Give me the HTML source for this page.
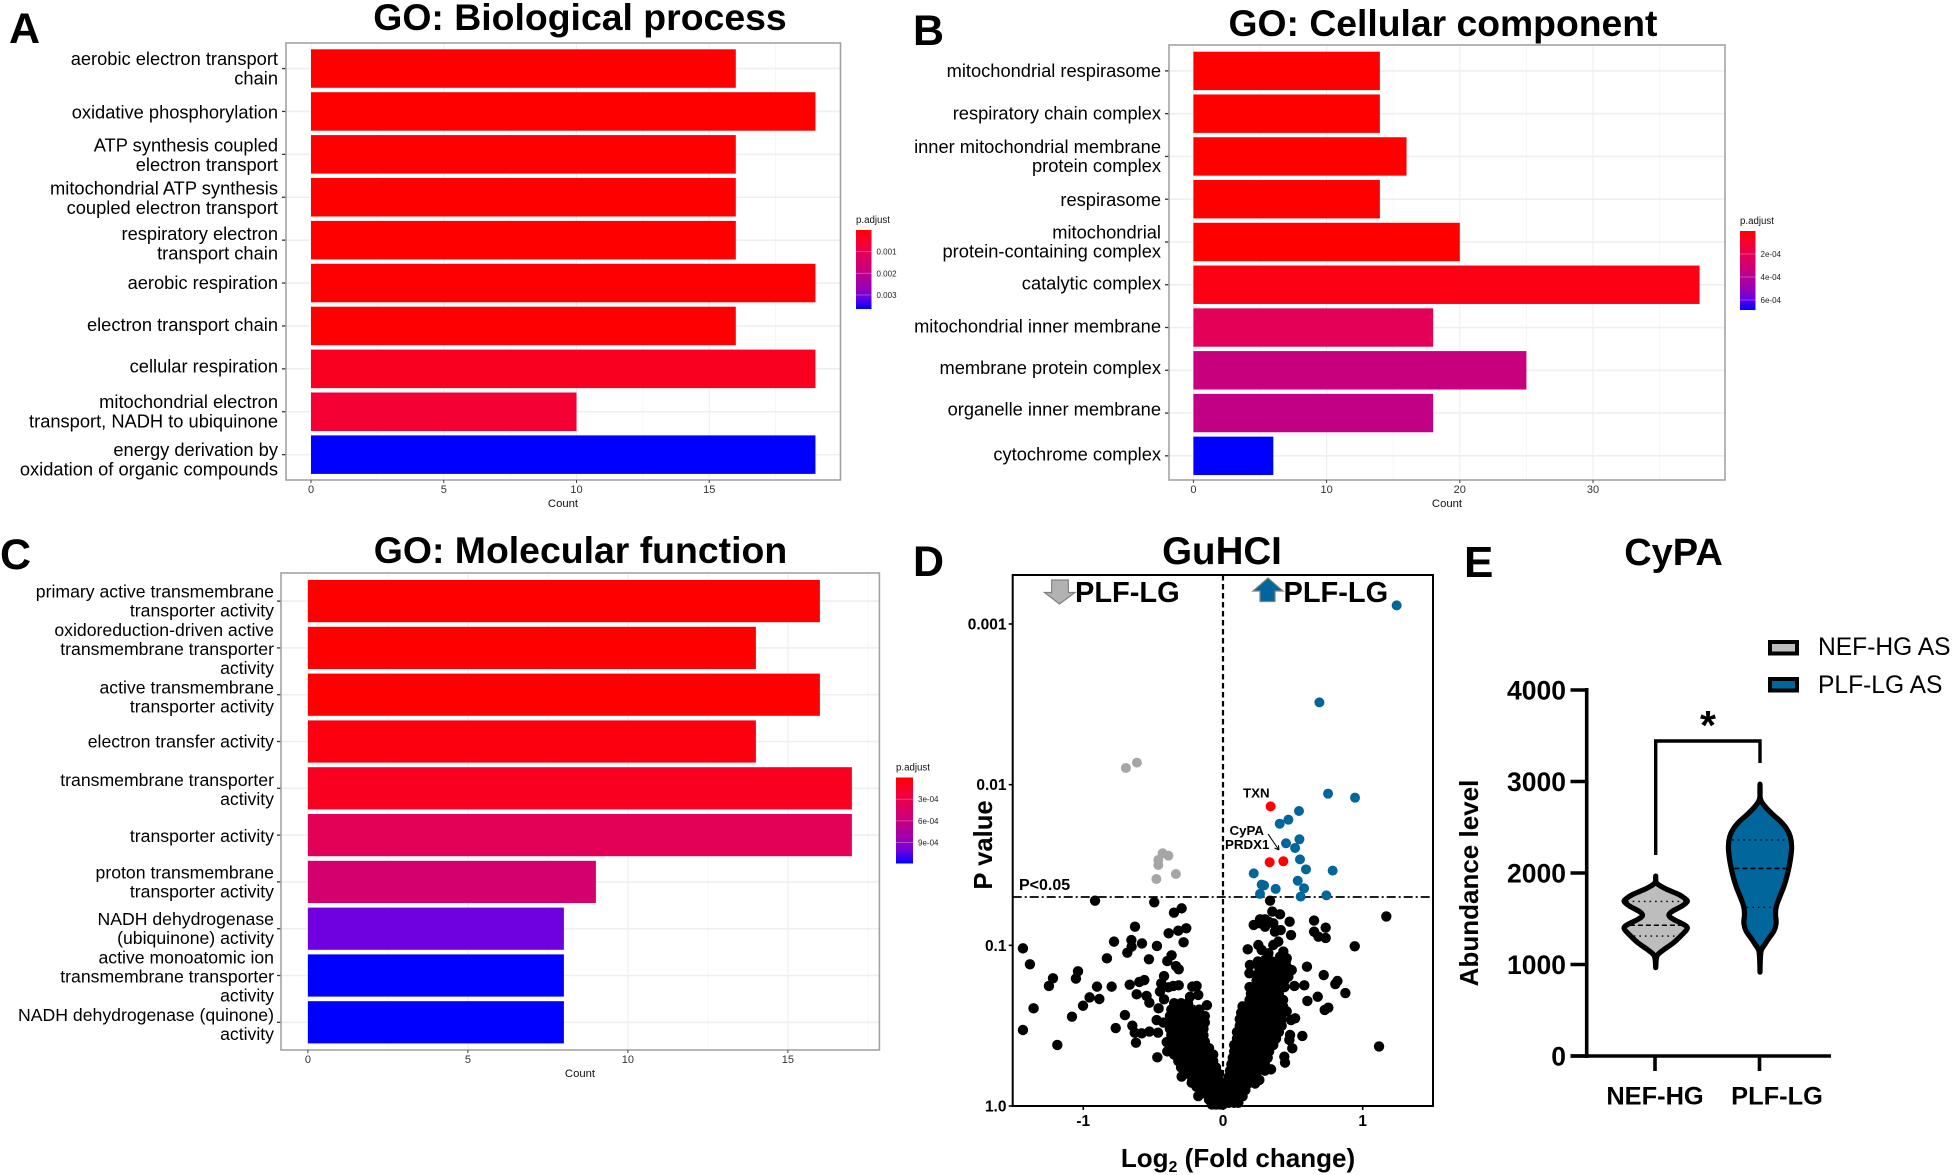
<!DOCTYPE html>
<html lang="en">
<head>
<meta charset="utf-8">
<title>GO enrichment, volcano and violin panels</title>
<style>
html,body{margin:0;padding:0;background:#fff;width:1955px;height:1175px;overflow:hidden}
svg{display:block}
text{font-family:"Liberation Sans",Arial,sans-serif;fill:#000}
.b{font-weight:bold}
</style>
</head>
<body>
<svg id="fig" xmlns="http://www.w3.org/2000/svg" width="1955" height="1175" viewBox="0 0 1955 1175">
  <rect width="1955" height="1175" fill="#fff"/>
  <text class="b" x="9" y="43" font-size="43">A</text>
  <text class="b" x="913" y="45" font-size="43">B</text>
  <text class="b" x="0" y="569" font-size="43">C</text>
  <text class="b" x="913" y="576" font-size="43">D</text>
  <text class="b" x="1464" y="577" font-size="44">E</text>
  <text class="b" x="580" y="30" font-size="37.4" text-anchor="middle">GO: Biological process</text>
  <text class="b" x="1443" y="36" font-size="37.3" text-anchor="middle">GO: Cellular component</text>
  <text class="b" x="580.5" y="563" font-size="37.4" text-anchor="middle">GO: Molecular function</text>
  <text class="b" x="1222" y="564" font-size="38.5" text-anchor="middle">GuHCI</text>
  <text class="b" x="1673.5" y="565" font-size="38" text-anchor="middle">CyPA</text>
  <g id="panelA"></g>
  <g id="panelB"></g>
  <g id="panelC"></g>
  <g id="panelD"></g>
  <g id="panelE"></g>
</svg>
<script>
/* ---------- GO panel data ---------- */
const bpTerms = ["aerobic electron transport\nchain","oxidative phosphorylation","ATP synthesis coupled\nelectron transport","mitochondrial ATP synthesis\ncoupled electron transport","respiratory electron\ntransport chain","aerobic respiration","electron transport chain","cellular respiration","mitochondrial electron\ntransport, NADH to ubiquinone","energy derivation by\noxidation of organic compounds"];
const bpCounts = [16,19,16,16,16,19,16,19,10,19];
const bpPadj = [0.00001,0.00001,0.00001,0.00001,0.00001,0.00002,0.00002,0.00037,0.00062,0.00365];
const bpPadjMax = 0.00365;
const bpTicks = [0,5,10,15];
const bpMinorTicks = [2.5,7.5,12.5,17.5];
const bpLegendTicks = [0.001,0.002,0.003];
const bpLegendLabels = ["0.001","0.002","0.003"];

const ccTerms = ["mitochondrial respirasome","respiratory chain complex","inner mitochondrial membrane\nprotein complex","respirasome","mitochondrial\nprotein-containing complex","catalytic complex","mitochondrial inner membrane","membrane protein complex","organelle inner membrane","cytochrome complex"];
const ccCounts = [14,14,16,14,20,38,18,25,18,6];
const ccPadj = [0.000001,0.000001,0.000002,0.000002,0.000003,0.00004,0.000206,0.000344,0.000364,0.000687];
const ccPadjMax = 0.000687;
const ccTicks = [0,10,20,30];
const ccMinorTicks = [5,15,25,35];
const ccLegendTicks = [0.0002,0.0004,0.0006];
const ccLegendLabels = ["2e-04","4e-04","6e-04"];

const mfTerms = ["primary active transmembrane\ntransporter activity","oxidoreduction-driven active\ntransmembrane transporter\nactivity","active transmembrane\ntransporter activity","electron transfer activity","transmembrane transporter\nactivity","transporter activity","proton transmembrane\ntransporter activity","NADH dehydrogenase\n(ubiquinone) activity","active monoatomic ion\ntransmembrane transporter\nactivity","NADH dehydrogenase (quinone)\nactivity"];
const mfCounts = [16,14,16,14,17,17,9,8,8,8];
const mfPadj = [0.000002,0.000003,0.000003,0.00006,0.00012,0.00036,0.0005,0.00101,0.00119,0.00119];
const mfPadjMax = 0.00119;
const mfTicks = [0,5,10,15];
const mfMinorTicks = [2.5,7.5,12.5,17.5];
const mfLegendTicks = [0.0003,0.0006,0.0009];
const mfLegendLabels = ["3e-04","6e-04","9e-04"];

/* ---------- Volcano data: log2 fold change and -log10(P) ---------- */
const blueFC = [1.243,.690,.752,.945,.544,.468,.406,.547,.451,.516,.551,.594,.785,.220,.535,.277,.294,.377,.580,.265,.556,.740];
const blueNegLogP = [3.116,2.512,1.944,1.919,1.836,1.782,1.757,1.660,1.635,1.606,1.535,1.473,1.465,1.448,1.402,1.378,1.373,1.351,1.355,1.320,1.303,1.311];
const redFC = [.341,.334,.432];
const redNegLogP = [1.865,1.517,1.523];
const grayFC = [-.695,-.616,-.432,-.391,-.463,-.463,-.337,-.477];
const grayNegLogP = [2.104,2.137,1.573,1.558,1.531,1.500,1.444,1.413];
const blackFC = [
-.916,-.492,-.296,-.351,-.630,-.263,-.320,-.389,-.656,-.780,
-.580,-.282,-.473,-1.432,-.654,-.685,-.368,-.831,-.530,-.399,
-1.382,-.337,-.317,-1.038,-1.217,-1.053,-.422,-.563,-.599,-.668,
-1.246,-.902,-.797,-.317,-.356,-.391,-.442,-.451,-.618,-.547,
-.955,-.885,-.527,-1.002,-1.356,-.422,-.461,-1.081,-.702,-1.432,
-.768,-.649,-.475,-.427,-.632,-.582,-.527,-.465,-1.186,-.623,
-.403,-.470,-.399,
1.117,1.169,.943,.652,.735,.652,.683,.735,.477,.487,
.601,.721,.819,.804,.582,.511,.876,.678,.604,.754,
.728,.456,.516,.487,.568,.480,.475,.496,.439,.444,
.344,.260,-.115,-.189,-.220,-.177,-.236,-.177,-.296,-.224,
.177,.193,.189,
.337,.353,.408,.265,.301,.220,.265,.301,.325,.360,
.372,.413,.253,.277,.325,.360,.396,.432,.456,.408,
.456,.492,.468,.301,.265,
-.35,-.30,-.25,
-.37,-.32,-.27,-.22,-.17,
-.38,-.33,-.28,-.23,-.18,-.13,
-.37,-.32,-.27,-.22,-.17,-.13,
-.38,-.33,-.28,-.23,-.18,-.14,
-.37,-.32,-.27,-.22,-.17,-.14,
-.38,-.33,-.28,-.23,-.18,-.13,
-.36,-.31,-.26,-.21,-.16,-.10,
-.35,-.30,-.25,-.20,-.15,-.10,-.07,
-.32,-.27,-.22,-.17,-.12,-.07,
-.30,-.25,-.20,-.15,-.10,-.05,
-.27,-.22,-.17,-.12,-.07,-.03,
-.22,-.17,-.12,-.07,-.03,
-.19,-.14,-.09,-.05,-.02,
-.14,-.09,-.05,-.02,
-.10,-.06,-.03,-.01,
-.08,-.05,-.02,0,
.25,.30,.35,.40,.45,
.26,.31,.36,.41,.46,
.25,.30,.35,.40,.45,
.24,.29,.34,.39,.44,
.19,.24,.29,.34,.39,.44,
.20,.25,.30,.35,.40,
.19,.24,.29,.34,.39,.43,
.14,.19,.24,.29,.34,.39,.43,
.13,.18,.23,.28,.33,.38,.43,
.12,.17,.22,.27,.32,.37,.42,
.12,.17,.22,.27,.32,.37,.42,
.10,.15,.20,.25,.30,.35,.40,
.10,.15,.20,.25,.30,.35,.38,
.08,.13,.18,.23,.28,.33,.36,
.08,.13,.18,.23,.28,.33,
.07,.12,.17,.22,.27,.32,
.06,.11,.16,.21,.26,.30,
.05,.10,.15,.20,.25,.30,
.04,.09,.14,.19,.24,
.03,.08,.13,.18,.23,
.03,.07,.12,.16,
.02,.06,.10,.14,
.01,.04,.08,.11
];
const blackNegLogP = [
1.278,1.268,1.230,1.203,1.116,1.106,1.091,1.075,1.033,1.023,
1.012,1.019,.996,.981,.992,.954,.938,.919,.913,.902,
.882,.871,.851,.838,.795,.793,.809,.784,.772,.755,
.747,.743,.743,.751,.747,.739,.763,.712,.695,.685,
.676,.666,.643,.624,.608,.664,.608,.556,.566,.473,
.485,.500,.535,.519,.456,.452,.463,.456,.380,.394,
.398,.303,.340,
.371,1.180,.994,1.154,1.110,1.085,1.054,1.046,1.147,1.064,
.867,.815,.778,.759,.751,.747,.703,.680,.654,.612,
.598,.589,.546,.535,.436,.442,.411,.359,.307,.270,
.228,.162,.627,.747,.743,.691,.680,.062,.183,.145,
.975,.878,.826,
1.278,1.210,1.193,1.162,1.162,1.127,1.137,1.116,1.147,1.137,
1.085,1.095,1.002,.971,.950,1.002,1.023,.961,.919,.929,
.867,.846,.805,.909,.867,
.64,.64,.64,
.60,.60,.60,.60,.60,
.56,.56,.56,.56,.56,.56,
.52,.52,.52,.52,.52,.52,
.48,.48,.48,.48,.48,.48,
.44,.44,.44,.44,.44,.44,
.40,.40,.40,.40,.40,.40,
.36,.36,.36,.36,.36,.36,
.32,.32,.32,.32,.32,.32,.32,
.28,.28,.28,.28,.28,.28,
.24,.24,.24,.24,.24,.24,
.20,.20,.20,.20,.20,.20,
.16,.16,.16,.16,.16,
.12,.12,.12,.12,.12,
.08,.08,.08,.08,
.04,.04,.04,.04,
.01,.01,.01,.01,
.90,.90,.90,.90,.90,
.86,.86,.86,.86,.86,
.82,.82,.82,.82,.82,
.78,.78,.78,.78,.78,
.74,.74,.74,.74,.74,.74,
.70,.70,.70,.70,.70,
.66,.66,.66,.66,.66,.66,
.62,.62,.62,.62,.62,.62,.62,
.58,.58,.58,.58,.58,.58,.58,
.54,.54,.54,.54,.54,.54,.54,
.50,.50,.50,.50,.50,.50,.50,
.46,.46,.46,.46,.46,.46,.46,
.42,.42,.42,.42,.42,.42,.42,
.38,.38,.38,.38,.38,.38,.38,
.34,.34,.34,.34,.34,.34,
.30,.30,.30,.30,.30,.30,
.26,.26,.26,.26,.26,.26,
.22,.22,.22,.22,.22,.22,
.18,.18,.18,.18,.18,
.14,.14,.14,.14,.14,
.10,.10,.10,.10,
.06,.06,.06,.06,
.02,.02,.02,.02
];
const volcanoXTicks = [-1,0,1];
const volcanoXLabels = ["-1","0","1"];
const volcanoYTicks = [0.001,0.01,0.1,1];
const volcanoYLabels = ["0.001","0.01","0.1","1.0"];
const pThreshold = 0.05;

/* ---------- Violin data: abundance levels and relative density ---------- */
const nefLevels = [1966,1891,1828,1765,1723,1689,1639,1576,1534,1492,1437,1395,1324,1239,1155,1092,966];
const nefDensity = [0,.03,.31,.73,.92,1,.83,.5,.42,.57,.89,1,.83,.57,.23,.04,0];
const nefQuartiles = [1689,1429,1311];
const plfLevels = [2971,2815,2731,2647,2563,2479,2395,2290,2143,1975,1849,1744,1639,1555,1450,1366,1282,1218,1155,1050,916];
const plfDensity = [0,.01,.15,.38,.65,.85,.96,1,.96,.86,.75,.63,.52,.49,.51,.44,.27,.15,.04,.01,0];
const plfQuartiles = [2361,2050,1626];
const abundanceTicks = [0,1000,2000,3000,4000];
const groupLabels = ["NEF-HG","PLF-LG"];
const legendLabels = ["NEF-HG AS","PLF-LG AS"];

/* ---------- helpers ---------- */
const NS = "http://www.w3.org/2000/svg";
function mk(parent, tag, props, txt) {
  const el = document.createElementNS(NS, tag);
  for (const k in props) el.setAttribute(k, props[k]);
  if (txt !== undefined) el.textContent = txt;
  parent.appendChild(el);
  return el;
}
function padjColor(t) {
  const stops = [[0,255,0,0],[.15,247,0,48],[.3,227,0,86],[.5,200,0,126],[.75,146,0,187],[.85,111,0,224],[1,0,0,255]];
  t = Math.max(0, Math.min(1, t));
  for (let i = 1; i < stops.length; i++) {
    if (t <= stops[i][0]) {
      const a = stops[i-1], b = stops[i], f = (t - a[0]) / (b[0] - a[0]);
      return "rgb(" + [1,2,3].map(j => Math.round(a[j] + (b[j] - a[j]) * f)).join(",") + ")";
    }
  }
  return "rgb(0,0,255)";
}

/* ---------- GO bar panel ---------- */
let gradId = 0;
function drawGo(root, d, L) {
  const xs = c => L.x0 + c * L.k;
  const bandTop = i => L.top + i * L.step;
  const bg = mk(root, "rect", {x:L.left, y:L.ty, width:L.right-L.left, height:L.by-L.ty, fill:"#fff"});
  
  
  d.minor.forEach(v => {
    const g = mk(root, "line", {x1:xs(v), x2:xs(v), y1:L.ty, y2:L.by, stroke:"#f5f5f5", "stroke-width":0.8});
    
    
  });
  d.ticks.forEach(v => {
    const g = mk(root, "line", {x1:xs(v), x2:xs(v), y1:L.ty, y2:L.by, stroke:"#eeeeee", "stroke-width":1.1});
    
    
  });
  d.terms.forEach((term, i) => {
    const cy = bandTop(i) + L.barH / 2;
    const grid = mk(root, "line", {x1:L.left, x2:L.right, y1:cy, y2:cy, stroke:"#efefef", "stroke-width":1.6});
    
    
    const bar = mk(root, "rect", {x:xs(0), y:bandTop(i), width:xs(d.counts[i])-xs(0), height:L.barH, fill:padjColor(d.padj[i]/d.padjMax)});
    
    
    const tick = mk(root, "line", {x1:L.left-4, x2:L.left, y1:cy, y2:cy, stroke:"#333", "stroke-width":1.3});
    
    
    const lines = term.split("\n");
    const label = mk(root, "text", {x:L.labelX, "text-anchor":"end", "font-size":L.fontSize});
    
    
    lines.forEach((ln, j) => {
      mk(label, "tspan", {x:L.labelX, y:cy + L.labelShift[i] + (j - (lines.length-1)/2) * L.lineH + 6}, ln);
    });
  });
  const frame = mk(root, "rect", {x:L.left, y:L.ty, width:L.right-L.left, height:L.by-L.ty, fill:"none", stroke:"#a3a3a3", "stroke-width":1.6});
  
  
  d.ticks.forEach(v => {
    const t = mk(root, "line", {x1:xs(v), x2:xs(v), y1:L.by, y2:L.by+3, stroke:"#444", "stroke-width":1});
    
    
    const lab = mk(root, "text", {x:xs(v), y:L.by+13, "text-anchor":"middle", "font-size":11, style:"fill:#333"}, String(v));
    
    
  });
  const xt = mk(root, "text", {x:L.countX, y:L.by+27, "text-anchor":"middle", "font-size":11.3, style:"fill:#111"}, "Count");
  
  

  /* legend */
  const id = "grad" + (gradId++);
  const defs = mk(root, "defs", {});
  const lg = mk(defs, "linearGradient", {id:id, x1:0, y1:0, x2:0, y2:1});
  for (let i = 0; i <= 20; i++) mk(lg, "stop", {offset:i/20, "stop-color":padjColor(i/20)});
  const title = mk(root, "text", {x:L.legX, y:L.legTop-7, "font-size":9.7, style:"fill:#111"}, "p.adjust");
  
  
  const bar = mk(root, "rect", {x:L.legX, y:L.legTop, width:L.legW, height:L.legH, fill:"url(#"+id+")"});
  
  
  d.legendTicks.forEach((v, i) => {
    const y = L.legTop + v / d.padjMax * L.legH;
    const lt = mk(root, "line", {x1:L.legX, x2:L.legX+L.legW, y1:y, y2:y, stroke:"#fff", "stroke-opacity":.35, "stroke-width":.8});
    
    
    const ll = mk(root, "text", {x:L.legX+L.legW+5, y:y+3, "font-size":8, style:"fill:#222"}, d.legendLabels[i]);
    
    
  });
}

drawGo(document.getElementById("panelA"),
  {terms:bpTerms, counts:bpCounts, padj:bpPadj, padjMax:bpPadjMax, ticks:bpTicks, minor:bpMinorTicks, legendTicks:bpLegendTicks, legendLabels:bpLegendLabels},
  {left:286, right:840.5, ty:43, by:480, x0:311, k:26.55, top:49.3, step:42.9, barH:38.5, labelX:278, countX:563, legX:856, legTop:230, legW:15.5, legH:79, fontSize:18.3, lineH:19.5, labelShift:[0.3,1,1,1,3.5,0,-1,-2.5,0,5]});
drawGo(document.getElementById("panelB"),
  {terms:ccTerms, counts:ccCounts, padj:ccPadj, padjMax:ccPadjMax, ticks:ccTicks, minor:ccMinorTicks, legendTicks:ccLegendTicks, legendLabels:ccLegendLabels},
  {left:1169, right:1725, ty:45, by:480, x0:1193.4, k:13.32, top:51.7, step:42.77, barH:38.4, labelX:1161, countX:1447, legX:1740, legTop:231, legW:15.5, legH:79, fontSize:18.3, lineH:19.3, labelShift:[0,0,0,1,0,-1.2,-1.2,-2.5,-3.7,-1.2]});
drawGo(document.getElementById("panelC"),
  {terms:mfTerms, counts:mfCounts, padj:mfPadj, padjMax:mfPadjMax, ticks:mfTicks, minor:mfMinorTicks, legendTicks:mfLegendTicks, legendLabels:mfLegendLabels},
  {left:281, right:879.4, ty:573, by:1050, x0:307.9, k:32, top:580, step:46.8, barH:42.2, labelX:274, countX:580, legX:896, legTop:777.5, legW:17, legH:86, fontSize:17.65, lineH:19, labelShift:[0,1,2.5,0,1,1,0,0,1,2]});

/* ---------- Volcano ---------- */
(function () {
  const root = document.getElementById("panelD");
  const L = {left:1012.7, right:1433, ty:575, by:1106};
  const xs = fc => 1223 + fc * 139.7;
  const ys = v => 1106 - v * 160.67;
  const frac = p => -Math.log10(p);

  const thr = mk(root, "line", {x1:L.left, x2:L.right, y1:ys(frac(pThreshold)), y2:ys(frac(pThreshold)), stroke:"#000", "stroke-width":1.8, "stroke-dasharray":"9 3 2 3"});
  
  
  const zero = mk(root, "line", {x1:xs(0), x2:xs(0), y1:L.ty, y2:L.by, stroke:"#000", "stroke-width":2.2, "stroke-dasharray":"5.5 3.5"});
  
  

  blackFC.forEach((fc, i) => {
    const c = mk(root, "circle", {cx:xs(fc), cy:ys(blackNegLogP[i]), r:5.2, fill:"#000"});
    
    
  });
  grayFC.forEach((fc, i) => {
    const c = mk(root, "circle", {cx:xs(fc), cy:ys(grayNegLogP[i]), r:5, fill:"#a6a6a6"});
    
    
  });
  blueFC.forEach((fc, i) => {
    const c = mk(root, "circle", {cx:xs(fc), cy:ys(blueNegLogP[i]), r:5, fill:"#00669c"});
    
    
  });
  redFC.forEach((fc, i) => {
    const c = mk(root, "circle", {cx:xs(fc), cy:ys(redNegLogP[i]), r:5, fill:"#ff0000"});
    
    
  });

  const frame = mk(root, "rect", {x:L.left, y:L.ty, width:L.right-L.left, height:L.by-L.ty, fill:"none", stroke:"#000", "stroke-width":2});
  
  

  volcanoXTicks.forEach((v, i) => {
    const t = mk(root, "line", {x1:xs(v), x2:xs(v), y1:L.by, y2:L.by+4, stroke:"#000", "stroke-width":1.6});
    
    
    const lab = mk(root, "text", {x:xs(v), y:1126, "text-anchor":"middle", "font-size":15.5, "font-weight":"bold"}, volcanoXLabels[i]);
    
    
  });
  volcanoYTicks.forEach((p, i) => {
    const y = ys(frac(p));
    const t = mk(root, "line", {x1:L.left-4, x2:L.left, y1:y, y2:y, stroke:"#000", "stroke-width":1.6});
    
    
    const lab = mk(root, "text", {x:1006.5, y:y+5.5, "text-anchor":"end", "font-size":15.5, "font-weight":"bold"}, volcanoYLabels[i]);
    
    
  });

  const yt = mk(root, "text", {transform:"translate(992,845) rotate(-90)", "text-anchor":"middle", "font-size":25.6, "font-weight":"bold"}, "P value");
  
  
  const xt = mk(root, "text", {x:1238, y:1167, "text-anchor":"middle", "font-size":26, "font-weight":"bold"});
  
  
  mk(xt, "tspan", {}, "Log");
  mk(xt, "tspan", {"font-size":16, dy:5}, "2");
  mk(xt, "tspan", {dy:-5}, " (Fold change)");

  const pl = mk(root, "text", {x:1019, y:890, "font-size":16, "font-weight":"bold"}, "P<0.05");
  
  
  const txn = mk(root, "text", {x:1243, y:797.5, "font-size":13.3, "font-weight":"bold"}, "TXN");
  
  
  const cypa = mk(root, "text", {x:1229.5, y:835, "font-size":13.3, "font-weight":"bold"}, "CyPA");
  
  
  const prdx = mk(root, "text", {x:1225, y:849, "font-size":13.3, "font-weight":"bold"}, "PRDX1");
  
  
  const ptr = mk(root, "path", {d:"M1268 834 L1279 850 M1279 850 l-4.5 -2 M1279 850 l-.6 -4.8", stroke:"#000", "stroke-width":1.1, fill:"none"});
  
  

  const da = mk(root, "polygon", {points:"1051.7,580 1068.3,580 1068.3,592.5 1075,592.5 1059.5,604 1044.5,592.5 1051.7,592.5", fill:"#b2b2b2", stroke:"#808080", "stroke-width":1.2});
  
  
  const ua = mk(root, "polygon", {points:"1268,578 1283,591 1275,591 1275,601.5 1260,601.5 1260,591 1253,591", fill:"#00669c", stroke:"#808080", "stroke-width":1.2});
  
  
  const dl = mk(root, "text", {x:1075, y:602, "font-size":29, "font-weight":"bold"}, "PLF-LG");
  
  
  const ul = mk(root, "text", {x:1283.5, y:602, "font-size":29, "font-weight":"bold"}, "PLF-LG");
  
  
})();

/* ---------- Violin ---------- */
(function () {
  const root = document.getElementById("panelE");
  const ys = v => 1056 - v * 0.0915;
  const centers = [1655.7, 1760];
  const halfWidth = 31.6;

  function smooth(pts) {
    let d = "M" + pts[0][0] + " " + pts[0][1];
    for (let i = 0; i < pts.length - 1; i++) {
      const p0 = pts[Math.max(i-1,0)], p1 = pts[i], p2 = pts[i+1], p3 = pts[Math.min(i+2,pts.length-1)];
      d += " C" + (p1[0]+(p2[0]-p0[0])/6) + " " + (p1[1]+(p2[1]-p0[1])/6) + " " +
           (p2[0]-(p3[0]-p1[0])/6) + " " + (p2[1]-(p3[1]-p1[1])/6) + " " + p2[0] + " " + p2[1];
    }
    return d;
  }
  function violin(cx, levels, density, fill, quart, name) {
    const right = levels.map((v,i) => [cx + density[i]*halfWidth, ys(v)]);
    const left = levels.map((v,i) => [cx - density[i]*halfWidth, ys(v)]).reverse();
    const dPath = smooth(right) + " " + smooth(left).replace(/^M[^C]*/, "") + " Z";
    const body = mk(root, "path", {d:dPath, fill:fill, stroke:"#000", "stroke-width":5.2, "stroke-linejoin":"round"});
    
    
    quart.forEach((q, i) => {
      const yq = ys(q);
      let k = 0;
      while (k < levels.length-2 && levels[k+1] > q) k++;
      const f = (levels[k]-q)/(levels[k]-levels[k+1]);
      const w = (density[k] + (density[k+1]-density[k])*f) * halfWidth - 3;
      const ql = mk(root, "line", {x1:cx-w, x2:cx+w, y1:yq, y2:yq, stroke:"#000", "stroke-width":i===1?1.6:1.3, "stroke-dasharray":i===1?"5 3":"1.6 4"});
      
      
    });
  }
  violin(centers[0], nefLevels, nefDensity, "#bdbdbd", nefQuartiles, "nef-hg-violin");
  violin(centers[1], plfLevels, plfDensity, "#00669c", plfQuartiles, "plf-lg-violin");

  const yAxis = mk(root, "line", {x1:1586.7, x2:1586.7, y1:688, y2:1058, stroke:"#000", "stroke-width":3.6});
  
  
  const xAxis = mk(root, "line", {x1:1570.5, x2:1831, y1:1056, y2:1056, stroke:"#000", "stroke-width":3.6});
  
  
  abundanceTicks.forEach(v => {
    const t = mk(root, "line", {x1:1570.5, x2:1586.7, y1:ys(v), y2:ys(v), stroke:"#000", "stroke-width":3.6});
    
    
    const lab = mk(root, "text", {x:1566, y:ys(v)+9.5, "text-anchor":"end", "font-size":26.5, "font-weight":"bold"}, String(v));
    
    
  });
  groupLabels.forEach((g, i) => {
    const t = mk(root, "line", {x1:[1655,1759.5][i], x2:[1655,1759.5][i], y1:1056, y2:1071, stroke:"#000", "stroke-width":3.6});
    
    
    const lab = mk(root, "text", {x:[1655,1777][i], y:1104.5, "text-anchor":"middle", "font-size":25.4, "font-weight":"bold"}, g);
    
    
  });
  const yt = mk(root, "text", {transform:"translate(1478,883) rotate(-90)", "text-anchor":"middle", "font-size":26, "font-weight":"bold"}, "Abundance level");
  
  
  const br = mk(root, "path", {d:"M1655.7 855 V741 H1760 V763", fill:"none", stroke:"#000", "stroke-width":3.4});
  
  
  const star = mk(root, "text", {x:1708, y:739, "text-anchor":"middle", "font-size":41, "font-weight":"bold"}, "*");
  
  
  const fills = ["#bdbdbd", "#00669c"];
  legendLabels.forEach((t, i) => {
    const y = [642, 679][i];
    const sw = mk(root, "rect", {x:1770, y:y, width:27, height:11.5, fill:fills[i], stroke:"#000", "stroke-width":4});
    
    
    const lab = mk(root, "text", {x:1818, y:[655,693][i], "font-size":24.6}, t);
    
    
  });
})();
</script>
</body>
</html>
